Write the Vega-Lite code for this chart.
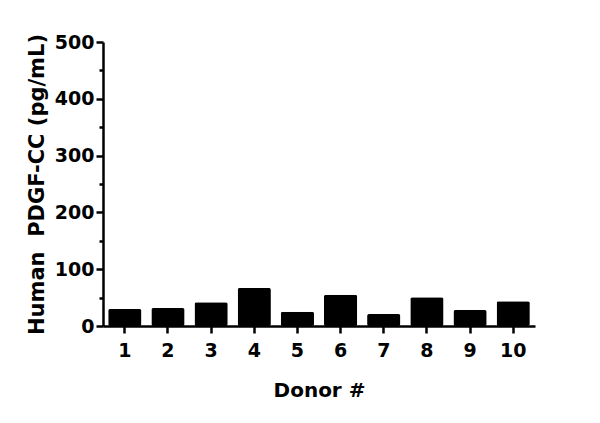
{
  "$schema": "https://vega.github.io/schema/vega-lite/v6.json",
  "width": 432,
  "height": 284,
  "autosize": "none",
  "padding": {"left": 103, "top": 42, "right": 65, "bottom": 97},
  "background": "white",
  "data": {
    "values": [
      {"donor": "1", "pdgf": 30},
      {"donor": "2", "pdgf": 31.5},
      {"donor": "3", "pdgf": 42},
      {"donor": "4", "pdgf": 67},
      {"donor": "5", "pdgf": 25},
      {"donor": "6", "pdgf": 55},
      {"donor": "7", "pdgf": 21},
      {"donor": "8", "pdgf": 50.5},
      {"donor": "9", "pdgf": 28},
      {"donor": "10", "pdgf": 43.5}
    ]
  },
  "mark": {"type": "bar", "color": "black", "cornerRadius": 2},
  "encoding": {
    "x": {
      "field": "donor",
      "type": "ordinal",
      "sort": null,
      "title": "Donor #",
      "scale": {"paddingInner": 0.23, "paddingOuter": 0.12},
      "axis": {
        "labelAngle": 0,
        "labelFontSize": 19,
        "labelPadding": 8,
        "tickSize": 7,
        "tickWidth": 2.5,
        "domainWidth": 2.5,
        "titleFontSize": 20,
        "titlePadding": 20
      }
    },
    "y": {
      "field": "pdgf",
      "type": "quantitative",
      "title": "Human\u00a0\u00a0PDGF-CC (pg/mL)",
      "scale": {"domain": [0, 500], "nice": false},
      "axis": {
        "values": [0, 50, 100, 150, 200, 250, 300, 350, 400, 450, 500],
        "labelExpr": "datum.value % 100 == 0 ? datum.label : ''",
        "tickSize": {"condition": {"test": "datum.value % 100 == 0", "value": 7}, "value": 4},
        "tickWidth": 2.5,
        "domainWidth": 2.5,
        "grid": false,
        "labelFontSize": 19,
        "labelPadding": 2,
        "titleFontSize": 21,
        "titleX": -56,
        "titleY": 142
      }
    }
  },
  "config": {
    "view": {"stroke": null},
    "axis": {
      "domainColor": "black",
      "tickColor": "black",
      "labelColor": "black",
      "titleColor": "black",
      "labelFont": "DejaVu Sans",
      "titleFont": "DejaVu Sans",
      "labelFontWeight": "bold",
      "titleFontWeight": "bold",
      "grid": false
    }
  }
}
